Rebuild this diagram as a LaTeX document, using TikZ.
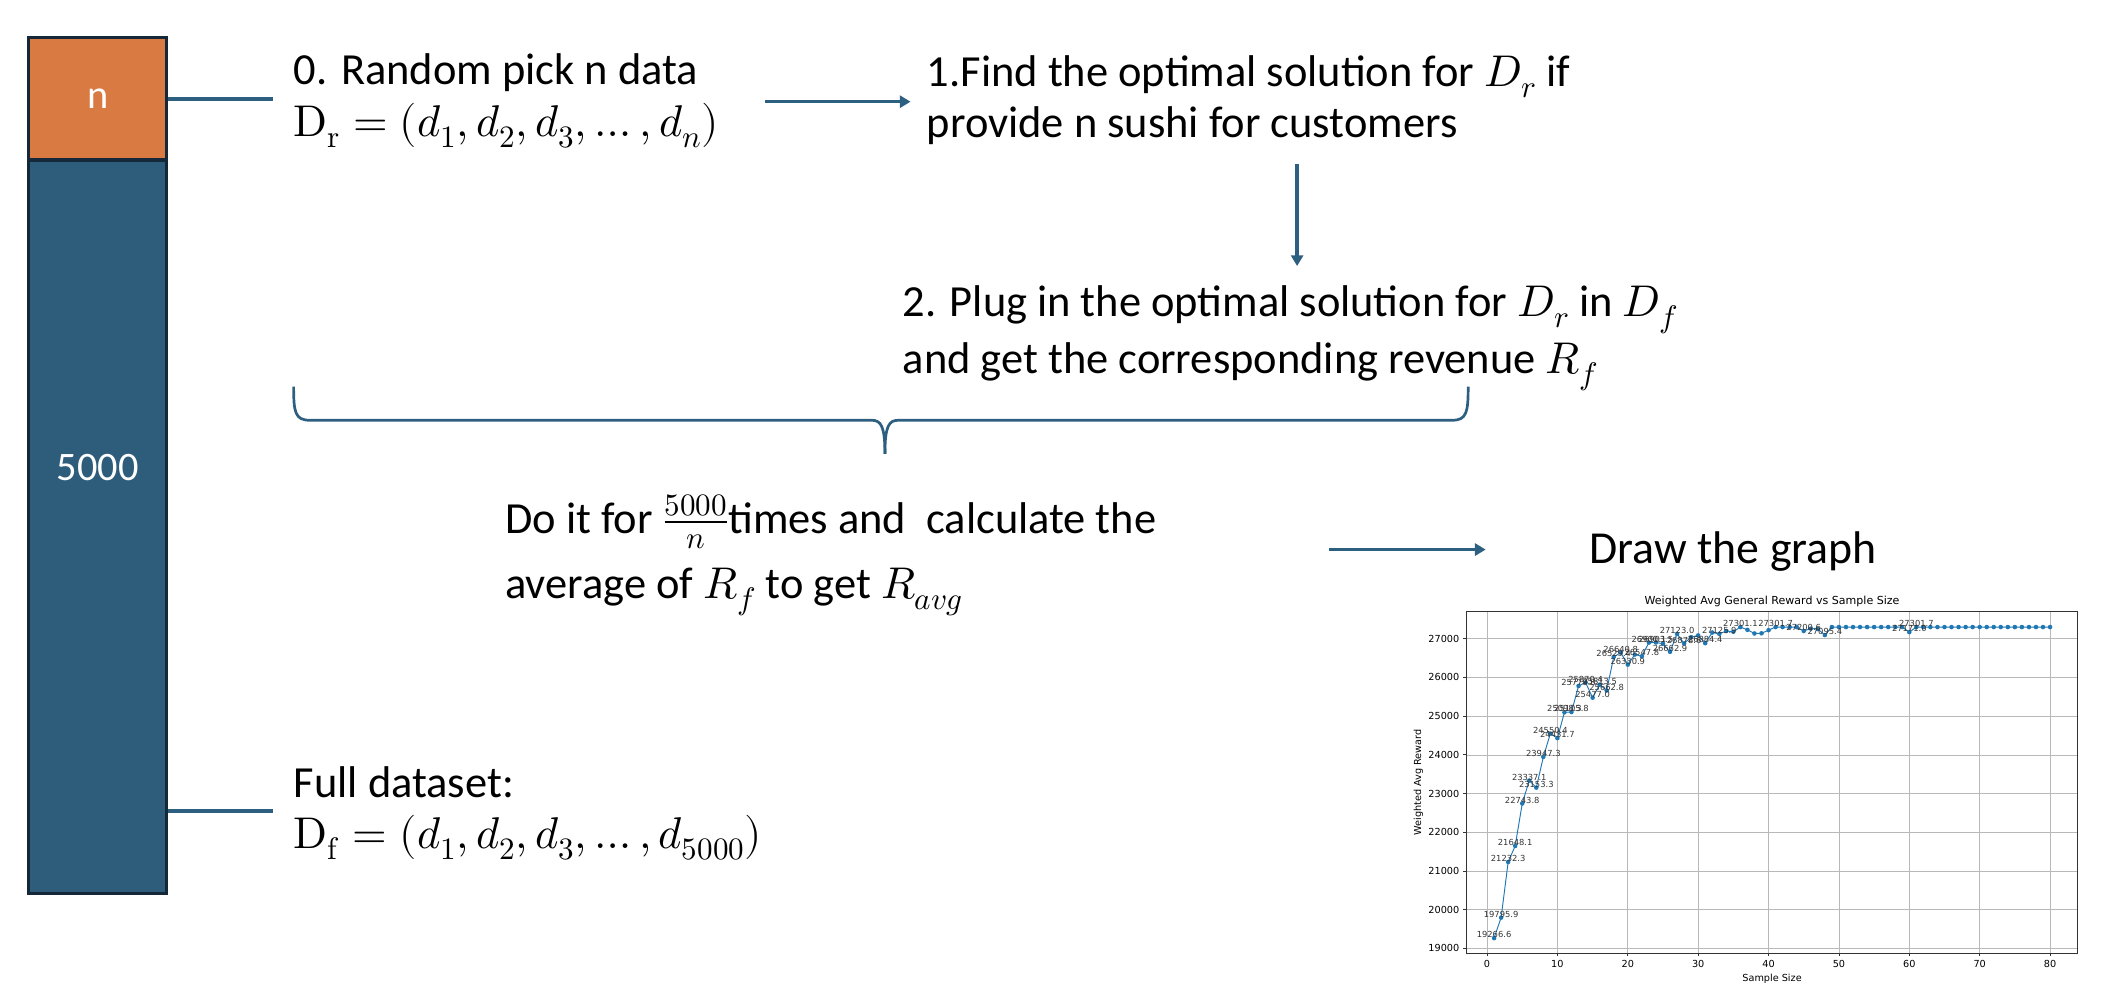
\documentclass[tikz,border=0pt]{standalone}
\usepackage{fontspec}
\usepackage{unicode-math}
\setmainfont{Carlito}
\setmathfont{Latin Modern Math}
\newfontfamily\plotfont{DejaVu Sans}
\usetikzlibrary{arrows.meta,positioning}
\definecolor{linkblue}{HTML}{2D5F80}
\definecolor{barblue}{HTML}{2E5C7B}
\definecolor{barorange}{HTML}{D97A42}
\definecolor{barframe}{HTML}{14283A}
\definecolor{plotblue}{HTML}{1F77B4}
% sample size / weighted avg reward (in thousands)
\def\rewards{1/19.2666,2/19.7959,3/21.2323,4/21.6481,5/22.7438,6/23.3371,7/23.1533,8/23.9473,
  9/24.5504,10/24.4317,11/25.0983,12/25.1058,13/25.7798,14/25.8704,15/25.4770,16/25.8135,
  17/25.6628,18/26.5294,19/26.6408,20/26.3309,21/26.5907,22/26.5478,23/26.9001,24/26.9035,
  25/26.8702,26/26.6629,27/27.1230,28/26.8786,29/27.0402,30/27.0853,31/26.8844,32/27.1605,
  33/27.1259,34/27.2004,35/27.1806,36/27.3011,37/27.2302,38/27.1357,39/27.1403,40/27.2208,
  41/27.3017,42/27.3017,43/27.3017,44/27.3017,45/27.2006,46/27.2623,47/27.2509,48/27.0954,
  49/27.3017,50/27.3017,51/27.3017,52/27.3017,53/27.3017,54/27.3017,55/27.3017,56/27.3017,
  57/27.3017,58/27.3017,59/27.3017,60/27.1710,61/27.3017,62/27.3017,63/27.3017,64/27.3017,
  65/27.3017,66/27.3017,67/27.3017,68/27.3017,69/27.3017,70/27.3017,71/27.3017,72/27.3017,
  73/27.3017,74/27.3017,75/27.3017,76/27.3017,77/27.3017,78/27.3017,79/27.3017,80/27.3017}
\begin{document}
\begin{tikzpicture}[x=1pt,y=-1pt,
  txt/.style={anchor=base west,inner sep=0pt,font=\fontsize{33}{40}\selectfont},
  segbox/.style={draw=barframe,line width=2.4pt,minimum width=102.6pt,text=white,inner sep=0pt,
    font=\fontsize{30}{36}\selectfont},
  link/.style={draw=linkblue,line width=2.6pt},
  flow/.style={link,-{Triangle[length=8pt,width=9pt]}},
  bracestroke/.style={draw=linkblue,line width=2pt,line join=round},
  gridline/.style={draw=black!28,line width=0.5pt},
  axisline/.style={draw=black!80,line width=0.6pt},
  ticklab/.style={font=\plotfont\fontsize{7.2}{8.5}\selectfont,inner sep=0pt},
  annot/.style={font=\plotfont\fontsize{6.2}{7}\selectfont,inner sep=0pt,anchor=south,text=black!80}]
\useasboundingbox (0,0) rectangle (1568,739.5);

% data bar
\node[segbox,fill=barorange,minimum height=90.9pt] (nbox) at (72.5,73.35) {n};
\node[segbox,fill=barblue,minimum height=544.4pt] (fullbox) at (72.5,391) {};
\node[segbox,draw=none,fill=none] (fulllabel) at (72.5,347) {5000};

% texts
\node[txt] (pick) at (218,63) {0. Random pick n data};
\node[txt] (pickset) at ([yshift=-38pt]pick.base west) {$\symup{D}_{\symup{r}}=(d_1,d_2,d_3,\dots,d_n)$};
\node[txt] (find) at (688,64) {1.Find the optimal solution for $D_r$ if};
\node[txt] (findb) at ([yshift=-38pt]find.base west) {provide n sushi for customers};
\node[txt] (plug) at (670,235) {2. Plug in the optimal solution for $D_r$ in $D_f$};
\node[txt] (plugb) at ([yshift=-42pt]plug.base west) {and get the corresponding revenue $R_f$};
\node[txt] (repeat) at (375,396) {Do it for $\frac{5000}{n}$times and\ \ calculate the};
\node[txt] (repeatb) at ([yshift=-48pt]repeat.base west) {average of $R_f$ to get $R_{avg}$};
\node[txt,font=\fontsize{34}{40}\selectfont] (drawg) at (1180,418) {Draw the graph};
\node[txt] (full) at (218,592) {Full dataset:};
\node[txt] (fullset) at ([yshift=-38pt]full.base west) {$\symup{D}_{\symup{f}}=(d_1,d_2,d_3,\dots,d_{5000})$};

% connectors
\coordinate (pickend) at (203,73.35);
\coordinate (fullend) at (203,602);
\draw[link] (nbox.east) -- (pickend);
\draw[link] (fullbox.east |- fullend) -- (fullend);
\coordinate (pickout) at (568,75.5);
\coordinate (findin) at (676,75.5);
\coordinate (findout) at (963,122);
\coordinate (plugin) at (963,197.5);
\coordinate (avgout) at (987,408);
\coordinate (graphin) at (1103,408);
\draw[flow] (pickout) -- (findin);
\draw[flow] (findout) -- (plugin);
\draw[flow] (avgout) -- (graphin);

% brace
\coordinate (braceL) at (218,287);
\coordinate (braceR) at (1090,287);
\coordinate (braceTip) at (657,337);
\draw[bracestroke] (braceL) .. controls (218,306) and (219,312) .. (230,312) -- (647,312)
  .. controls (654,312) and (657,316) .. (braceTip);
\draw[bracestroke] (braceR) .. controls (1090,306) and (1089,312) .. (1078,312) -- (667,312)
  .. controls (660,312) and (657,316) .. (braceTip);

% the graph, y in thousands
\begin{scope}[shift={(1104,1250.18)},x=5.225pt,y=28.74pt]
  \foreach \gx in {0,10,...,80} \draw[gridline] (\gx,18.865) -- (\gx,27.703);
  \foreach \gy in {19,20,...,27} \draw[gridline] (-2.95,\gy) -- (83.95,\gy);
  \draw[axisline] (-2.95,18.865) rectangle (83.95,27.703);
  \foreach \gx in {0,10,...,80} {
    \draw[axisline] (\gx,18.865) -- ++(0,-0.07);
    \node[ticklab,anchor=north] at (\gx,18.69) {\gx};
  }
  \foreach \gy in {19,20,...,27} {
    \draw[axisline] (-2.95,\gy) -- ++(-0.4,0);
    \node[ticklab,anchor=east] at (-3.9,\gy) {\gy000};
  }
  \node[font=\plotfont\fontsize{8.2}{10}\selectfont,inner sep=0pt,anchor=south,yshift=3pt] (ptitle)
    at (40.5,27.703) {Weighted Avg General Reward vs Sample Size};
  \node[ticklab,anchor=north,yshift=-15pt] (pxlabel) at (40.5,18.865) {Sample Size};
  \node[ticklab,rotate=90] (pylabel) at (-9.76,23.284) {Weighted Avg Reward};
  \draw[plotblue,line width=0.7pt,line join=round] (1,19.2666) \foreach \sx/\sv in \rewards {-- (\sx,\sv)};
  \foreach \sx/\sv in \rewards \fill[plotblue] (\sx,\sv) circle[radius=1.7pt];
  \foreach \sx/\sv/\slab in {1/19.2666/19266.6,2/19.7959/19795.9,3/21.2323/21232.3,4/21.6481/21648.1,
    5/22.7438/22743.8,6/23.3371/23337.1,7/23.1533/23153.3,8/23.9473/23947.3,9/24.5504/24550.4,
    10/24.4317/24431.7,11/25.0983/25098.3,12/25.1058/25105.8,13/25.7798/25779.8,14/25.8704/25870.4,
    15/25.4770/25477.0,16/25.8135/25813.5,17/25.6628/25662.8,18/26.5294/26529.4,19/26.6408/26640.8,
    20/26.3309/26330.9,22/26.5478/26547.8,23/26.9001/26900.1,24/26.9035/26903.5,26/26.6629/26662.9,
    27/27.1230/27123.0,28/26.8786/26878.6,31/26.8844/26884.4,33/27.1259/27125.9,36/27.3011/27301.1,
    41/27.3017/27301.7,45/27.2006/27200.6,48/27.0954/27095.4,60/27.1710/27171.0,61/27.3017/27301.7}
    \node[annot] at (\sx,\sv) {\slab};
\end{scope}
\end{tikzpicture}
\end{document}
